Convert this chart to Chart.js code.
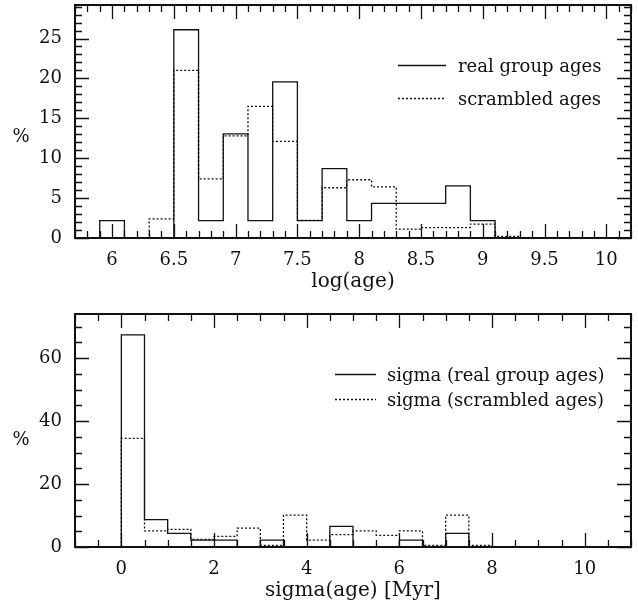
<!DOCTYPE html>
<html>
<head>
<meta charset="utf-8">
<script src="https://cdn.jsdelivr.net/npm/chart.js@4.4.1/dist/chart.umd.min.js"></script>
<style>
    html, body { margin: 0; padding: 0; background: #fff; }
    #wrap { position: relative; width: 638px; height: 609px; }
    .box { position: absolute; left: 0; width: 638px; }
    #top { top: 0; height: 306px; }
    #bottom { top: 306px; height: 303px; }
</style>
</head>
<body>
<div id="wrap">
    <div class="box" id="top"><canvas id="ageChart"></canvas></div>
    <div class="box" id="bottom"><canvas id="sigmaChart"></canvas></div>
</div>
<script>
// ===========================
// DATA
// ===========================

// log(age) histogram - left edges of the 0.2 wide bins, values in %
const ageBins = [5.9, 6.1, 6.3, 6.5, 6.7, 6.9, 7.1, 7.3, 7.5, 7.7, 7.9, 8.1, 8.3, 8.5, 8.7, 8.9, 9.1];
const ageReal = [2.17, 0, 0, 26.1, 2.17, 13.04, 2.17, 19.57, 2.17, 8.7, 2.17, 4.35, 4.35, 4.35, 6.52, 2.17, 0];
const ageScrambled = [0, 0, 2.4, 21.0, 7.4, 12.8, 16.5, 12.1, 2.2, 6.3, 7.3, 6.4, 1.1, 1.3, 1.3, 1.75, 0.2];
const ageTicks = [6, 6.5, 7, 7.5, 8, 8.5, 9, 9.5, 10];
const agePctTicks = [0, 5, 10, 15, 20, 25];

// sigma(age) histogram - left edges of the 0.5 Myr bins, values in %
const sigmaBins = [0, 0.5, 1, 1.5, 2, 2.5, 3, 3.5, 4, 4.5, 5, 5.5, 6, 6.5, 7, 7.5];
const sigmaReal = [67.4, 8.7, 4.35, 2.17, 2.17, 0, 2.17, 0, 0, 6.52, 0, 0, 2.17, 0, 4.35, 0];
const sigmaScrambled = [34.5, 5.1, 5.6, 2.4, 3.4, 6.0, 0.5, 10.1, 2.2, 3.9, 5.1, 3.7, 5.1, 0.5, 10.1, 0.5];
const sigmaTicks = [0, 2, 4, 6, 8, 10];
const sigmaPctTicks = [0, 20, 40, 60];

const FONT = 'DejaVu Serif';
const INK = '#111';

// Build a histogram outline (stepped line) from bin edges + values
function stepPoints(bins, values) {
    const width = bins[1] - bins[0];
    const pts = [{ x: bins[0], y: 0 }];
    bins.forEach((b, i) => pts.push({ x: b, y: values[i] }));
    pts.push({ x: bins[bins.length - 1] + width, y: 0 });
    return pts;
}

// Frame with inward ticks on all four sides, "%" label and inline legend
const framePlugin = {
    id: 'frame',
    afterDraw(chart, args, opts) {
        const { ctx, chartArea: a, scales: { x, y } } = chart;
        ctx.save();
        ctx.strokeStyle = INK;

        // ticks
        ctx.lineWidth = 1.3;
        function marks(scale, minor, major, horizontal) {
            const k0 = Math.ceil(scale.min / minor - 1e-6);
            const k1 = Math.floor(scale.max / minor + 1e-6);
            for (let k = k0; k <= k1; k++) {
                const v = k * minor;
                const r = v / major;
                const len = Math.abs(r - Math.round(r)) < 1e-6 ? 14 : 7;
                const p = Math.round(scale.getPixelForValue(v)) + 0.5;
                ctx.beginPath();
                if (horizontal) {
                    ctx.moveTo(p, a.bottom); ctx.lineTo(p, a.bottom - len);
                    ctx.moveTo(p, a.top); ctx.lineTo(p, a.top + len);
                } else {
                    ctx.moveTo(a.left, p); ctx.lineTo(a.left + len, p);
                    ctx.moveTo(a.right, p); ctx.lineTo(a.right - len, p);
                }
                ctx.stroke();
            }
        }
        marks(x, opts.xMinor, opts.xMajor, true);
        marks(y, opts.yMinor, opts.yMajor, false);

        // frame
        ctx.lineWidth = 2;
        ctx.strokeRect(a.left, a.top, a.right - a.left, a.bottom - a.top);

        // "%" axis label
        ctx.fillStyle = INK;
        ctx.font = '18px "' + FONT + '"';
        ctx.textAlign = 'center';
        ctx.textBaseline = 'middle';
        ctx.fillText('%', 21, opts.pctY);

        // legend
        const lg = opts.legend;
        ctx.textAlign = 'left';
        chart.data.datasets.forEach((ds, i) => {
            const yy = lg.rows[i];
            ctx.lineWidth = 1.3;
            ctx.setLineDash(ds.borderDash || []);
            ctx.beginPath();
            ctx.moveTo(lg.x1, yy + 0.5);
            ctx.lineTo(lg.x2, yy + 0.5);
            ctx.stroke();
            ctx.setLineDash([]);
            ctx.fillText(ds.label, lg.textX, yy + 2);
        });
        ctx.restore();
    }
};

function makeChart(id, cfg) {
    const tickFont = { family: FONT, size: 18 };
    return new Chart(document.getElementById(id), {
        type: 'line',
        data: {
            datasets: [{
                label: cfg.labels[0],
                data: stepPoints(cfg.bins, cfg.real),
                borderColor: INK,
                borderWidth: 1.3,
                pointRadius: 0,
                fill: false,
                stepped: true
            }, {
                label: cfg.labels[1],
                data: stepPoints(cfg.bins, cfg.scrambled),
                borderColor: INK,
                borderWidth: 1.3,
                borderDash: [2, 2],
                pointRadius: 0,
                fill: false,
                stepped: true
            }]
        },
        options: {
            responsive: true,
            maintainAspectRatio: false,
            animation: false,
            events: [],
            layout: { padding: { top: cfg.padTop, right: 7, left: 0, bottom: 0 } },
            plugins: {
                legend: { display: false },
                tooltip: { enabled: false },
                frame: cfg.frame
            },
            scales: {
                x: {
                    type: 'linear',
                    min: cfg.xMin,
                    max: cfg.xMax,
                    grid: { display: false, drawTicks: false },
                    border: { display: false },
                    afterBuildTicks: s => { s.ticks = cfg.xTicks.map(v => ({ value: v })); },
                    afterFit: s => { s.height = cfg.xHeight; s.paddingLeft = 0; s.paddingRight = 0; },
                    ticks: {
                        color: INK,
                        font: tickFont,
                        padding: 12,
                        maxRotation: 0,
                        autoSkip: false,
                        callback: v => String(v)
                    },
                    title: {
                        display: true,
                        text: cfg.xTitle,
                        color: INK,
                        font: { family: FONT, size: 20 },
                        padding: { top: 0, bottom: cfg.titlePad }
                    }
                },
                y: {
                    min: 0,
                    max: cfg.yMax,
                    grid: { display: false, drawTicks: false },
                    border: { display: false },
                    afterBuildTicks: s => { s.ticks = cfg.yTicks.map(v => ({ value: v })); },
                    afterFit: s => { s.width = 75; s.paddingTop = 0; s.paddingBottom = 0; },
                    ticks: {
                        color: INK,
                        font: tickFont,
                        padding: 13,
                        callback: v => String(v)
                    }
                }
            }
        },
        plugins: [framePlugin]
    });
}

makeChart('ageChart', {
    bins: ageBins,
    real: ageReal,
    scrambled: ageScrambled,
    labels: ['real group ages', 'scrambled ages'],
    xTicks: ageTicks,
    yTicks: agePctTicks,
    xMin: 5.7,
    xMax: 10.2,
    yMax: 29.2,
    xTitle: 'log(age)',
    padTop: 5,
    xHeight: 68,
    titlePad: 12,
    frame: {
        xMinor: 0.1, xMajor: 0.5, yMinor: 1, yMajor: 5,
        pctY: 137,
        legend: { x1: 398, x2: 446, textX: 458, rows: [65, 98] }
    }
});

makeChart('sigmaChart', {
    bins: sigmaBins,
    real: sigmaReal,
    scrambled: sigmaScrambled,
    labels: ['sigma (real group ages)', 'sigma (scrambled ages)'],
    xTicks: sigmaTicks,
    yTicks: sigmaPctTicks,
    xMin: -1,
    xMax: 11,
    yMax: 74,
    xTitle: 'sigma(age) [Myr]',
    padTop: 8,
    xHeight: 62,
    titlePad: 6,
    frame: {
        xMinor: 0.5, xMajor: 2, yMinor: 5, yMajor: 20,
        pctY: 134,
        legend: { x1: 335, x2: 376, textX: 387, rows: [68, 93] }
    }
});
</script>
</body>
</html>
